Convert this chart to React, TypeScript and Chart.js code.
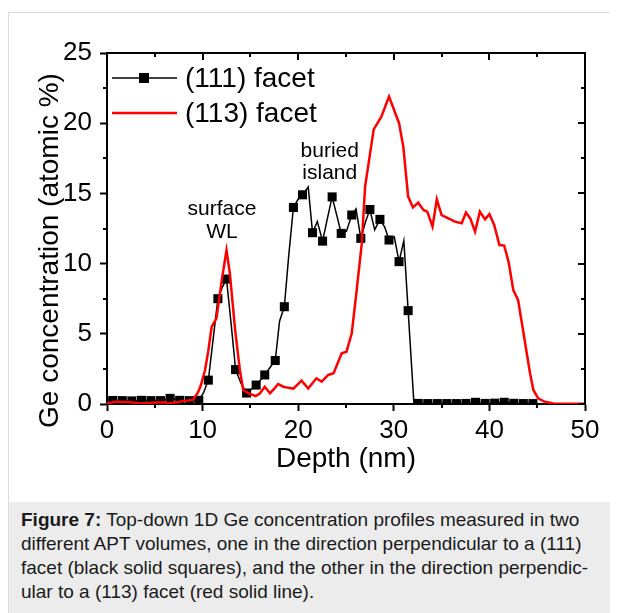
import React, { useEffect, useRef } from "react";
import { Chart, registerables } from "chart.js";

Chart.register(...registerables);

// ---------- data ----------
const seriesLabels = ["(111) facet", "(113) facet"];
const xAxisTitle = "Depth (nm)";
const yAxisTitle = "Ge concentration (atomic %)";
const xRange = [0, 50];
const yRange = [0, 25];
const xMajorStep = 10;
const xMinorStep = 5;
const yMajorStep = 5;
const yMinorStep = 2.5;

// (111) facet, black squares (every second point carries a symbol)
const facet111Depth = [
  0.1, 0.6, 1.1, 1.6, 2.1, 2.6, 3.1, 3.6, 4.1, 4.6, 5.1, 5.6, 6.1, 6.6, 7.1, 7.6, 8.1, 8.6, 9.1, 9.6,
  10.1, 10.6, 11.1, 11.6, 12.05, 12.5, 13.0, 13.45, 14.0, 14.6, 15.1, 15.6, 16.05, 16.5, 17.05, 17.6,
  18.05, 18.55, 19.0, 19.5, 20.0, 20.45, 21.05, 21.5, 22.0, 22.55, 23.05, 23.55, 24.05, 24.5, 25.05,
  25.6, 26.05, 26.55, 27.05, 27.5, 28.0, 28.55, 29.05, 29.5, 30.05, 30.55, 31.05, 31.5, 32.1, 32.55,
  33.05, 33.55, 34.05, 34.55, 35.05, 35.55, 36.05, 36.55, 37.05, 37.55, 38.05, 38.55, 39.05, 39.55,
  40.05, 40.55, 41.05, 41.55, 42.05, 42.55, 43.05, 43.55, 44.05, 44.55, 45.05,
];
const facet111Conc = [
  0.3, 0.25, 0.25, 0.24, 0.24, 0.22, 0.22, 0.26, 0.26, 0.24, 0.23, 0.24, 0.3, 0.4, 0.34, 0.26, 0.24, 0.24, 0.24, 0.26,
  0.8, 1.7, 4.6, 7.5, 8.3, 8.9, 5.6, 2.45, 1.5, 0.78, 1.05, 1.35, 1.7, 2.07, 2.6, 3.1,
  5.9, 6.93, 10.5, 14.0, 14.6, 14.9, 15.45, 12.2, 13.0, 11.6, 13.2, 14.75, 13.4, 12.15, 12.3,
  13.46, 13.9, 11.8, 13.0, 13.85, 12.4, 13.15, 12.6, 11.68, 11.9, 10.14, 11.63, 6.65, 0.1, 0.04,
  0.03, 0.03, 0.03, 0.03, 0.03, 0.03, 0.03, 0.03, 0.03, 0.04, 0.06, 0.12, 0.06, 0.04,
  0.04, 0.06, 0.1, 0.12, 0.1, 0.05, 0.03, 0.03, 0.03, 0.03, 0.03,
];

// (113) facet, red solid line
const facet113Depth = [
  0.0, 0.5, 1.0, 1.5, 2.0, 2.5, 3.0, 3.5, 4.0, 4.5, 5.0, 5.5, 6.0, 6.6, 7.0, 7.5, 8.0, 8.5, 9.0, 9.5,
  9.8, 10.25, 10.6, 10.95, 11.45, 12.0, 12.5, 12.85, 13.4, 13.9, 14.25, 14.8, 15.55, 16.0, 16.5, 17.05,
  17.5, 17.9, 18.45, 19.0, 19.5, 20.35, 21.05, 21.9, 22.45, 23.15, 23.7, 24.55, 25.05, 25.6, 26.1,
  26.65, 27.0, 27.9, 28.7, 29.5, 30.55, 31.0, 31.5, 32.0, 32.55, 33.1, 33.5, 34.05, 34.5, 35.0, 35.7,
  36.4, 37.1, 37.55, 38.0, 38.5, 39.0, 39.55, 40.0, 40.5, 41.05, 41.55, 42.0, 42.5, 43.0, 43.6, 44.25,
  44.6, 45.1, 45.8, 46.7, 47.5, 48.5, 50.0,
];
const facet113Conc = [
  0.05, 0.1, 0.17, 0.15, 0.15, 0.12, 0.08, 0.05, 0.06, 0.08, 0.1, 0.1, 0.12, 0.03, 0.1, 0.15, 0.22, 0.25, 0.3, 0.8,
  1.3, 2.4, 3.8, 5.5, 6.1, 8.8, 10.95, 9.3, 5.3, 2.4, 1.0, 0.76, 0.57, 0.76, 1.23, 0.76,
  1.1, 1.42, 1.23, 1.15, 1.1, 1.66, 1.1, 1.83, 1.59, 2.07, 2.19, 3.61, 3.72, 5.03, 8.0,
  11.44, 15.5, 19.56, 20.46, 21.9, 20.0, 18.3, 14.77, 14.0, 14.34, 13.82, 13.7, 12.63, 14.58, 13.46, 13.22,
  12.99, 12.87, 13.63, 13.22, 12.27, 13.7, 13.15, 13.53, 12.75, 11.32, 11.28, 10.14, 8.12, 7.41, 4.91, 2.19,
  1.0, 0.4, 0.16, 0.03, 0.02, 0.02, 0.02,
];

// annotations: [text lines, depth (centre), concentration at first baseline]
const annotationLines = [
  ["buried", "island"],
  ["surface", "WL"],
];
const annotationDepth = [23.3, 12.03];
const annotationConc = [17.6, 13.46];

const captionBold = "Figure 7:";
const captionLines = [
  " Top-down 1D Ge concentration profiles measured in two",
  "different APT volumes, one in the direction perpendicular to a (111)",
  "facet (black solid squares), and the other in the direction perpendic-",
  "ular to a (113) facet (red solid line).",
];

// ---------- styling ----------
const FONT = "'Liberation Sans', Arial, Helvetica, sans-serif";
const CANVAS_W = 609;
const CANVAS_H = 489;

const toPoints = (xs: number[], ys: number[]) => xs.map((x, i) => ({ x, y: ys[i] }));

const extrasPlugin = {
  id: "extras",
  afterDatasetsDraw(chart: any) {
    const { ctx, chartArea: a, scales } = chart;
    const xs = scales.x;
    const ys = scales.y;
    ctx.save();
    ctx.strokeStyle = "#000";
    ctx.lineWidth = 2;
    const seg = (x1: number, y1: number, x2: number, y2: number) => {
      ctx.beginPath();
      ctx.moveTo(x1, y1);
      ctx.lineTo(x2, y2);
      ctx.stroke();
    };
    // top and right frame
    ctx.beginPath();
    ctx.moveTo(a.left - 1, a.top);
    ctx.lineTo(a.right, a.top);
    ctx.lineTo(a.right, a.bottom + 1);
    ctx.stroke();
    // x ticks
    for (let v = xRange[0]; v <= xRange[1] + 1e-9; v += xMinorStep) {
      const px = Math.round(xs.getPixelForValue(v));
      const major = Math.abs(v / xMajorStep - Math.round(v / xMajorStep)) < 1e-6;
      const len = major ? 7 : 4;
      seg(px, a.top, px, a.top + len);
      if (!major) seg(px, a.bottom, px, a.bottom + len);
    }
    // y ticks
    for (let v = yRange[0]; v <= yRange[1] + 1e-9; v += yMinorStep) {
      const py = Math.round(ys.getPixelForValue(v));
      const major = Math.abs(v / yMajorStep - Math.round(v / yMajorStep)) < 1e-6;
      const len = major ? 7 : 4;
      seg(a.right, py, a.right - len, py);
      if (!major) seg(a.left, py, a.left - len, py);
    }

    // legend
    ctx.font = `28px ${FONT}`;
    ctx.textBaseline = "middle";
    ctx.textAlign = "left";
    chart.data.datasets.forEach((ds: any, i: number) => {
      const yy = a.top + 25 + i * 35;
      ctx.strokeStyle = ds.borderColor;
      ctx.lineWidth = ds.borderWidth;
      seg(a.left + 5, yy, a.left + 70, yy);
      if (ds.legendMarker) {
        ctx.fillStyle = ds.pointBackgroundColor;
        ctx.fillRect(a.left + 32, yy - 5, 10, 10);
      }
      ctx.fillStyle = "#000";
      ctx.fillText(ds.label, a.left + 78, yy + 1);
    });

    // annotations
    ctx.font = `21px ${FONT}`;
    ctx.textAlign = "center";
    ctx.textBaseline = "alphabetic";
    ctx.fillStyle = "#000";
    annotationLines.forEach((lines, i) => {
      const cx = xs.getPixelForValue(annotationDepth[i]);
      const by = ys.getPixelForValue(annotationConc[i]);
      lines.forEach((t, j) => ctx.fillText(t, cx, by + j * 22.5));
    });

    // y axis title
    ctx.save();
    ctx.font = `28px ${FONT}`;
    ctx.textAlign = "center";
    ctx.textBaseline = "middle";
    ctx.translate(41, (a.top + a.bottom) / 2 + 22);
    ctx.rotate(-Math.PI / 2);
    ctx.fillText(yAxisTitle, 0, 0);
    ctx.restore();

    ctx.restore();
  },
};

export default function App() {
  const canvasRef = useRef<HTMLCanvasElement | null>(null);

  useEffect(() => {
    if (!canvasRef.current) return;
    const chart = new Chart(canvasRef.current, {
      type: "line",
      data: {
        datasets: [
          {
            label: seriesLabels[0],
            data: toPoints(facet111Depth, facet111Conc),
            borderColor: "#000",
            backgroundColor: "#000",
            pointBackgroundColor: "#000",
            borderWidth: 1.5,
            pointStyle: "rect",
            pointRadius: (c: any) => (c.dataIndex % 2 === 1 ? 6.4 : 0),
            pointBorderWidth: 0,
            tension: 0,
            order: 1,
            legendMarker: true,
          } as any,
          {
            label: seriesLabels[1],
            data: toPoints(facet113Depth, facet113Conc),
            borderColor: "#ff0000",
            backgroundColor: "#ff0000",
            borderWidth: 2.5,
            pointRadius: 0,
            tension: 0,
            order: 0,
          } as any,
        ],
      },
      options: {
        responsive: false,
        animation: false,
        layout: { padding: { left: 0, right: 33, top: 40, bottom: 0 } },
        plugins: {
          legend: { display: false },
          tooltip: { enabled: false },
          title: { display: false },
        },
        scales: {
          x: {
            type: "linear",
            position: "bottom",
            min: xRange[0],
            max: xRange[1],
            afterFit: (s: any) => {
              s.height = 98;
            },
            ticks: {
              stepSize: xMajorStep,
              autoSkip: false,
              maxRotation: 0,
              color: "#000",
              padding: 4,
              font: { family: FONT, size: 26 },
            },
            grid: {
              drawOnChartArea: false,
              drawTicks: true,
              tickLength: 7,
              tickWidth: 2,
              tickColor: "#000",
            },
            border: { display: true, color: "#000", width: 2 },
            title: {
              display: true,
              text: xAxisTitle,
              color: "#000",
              font: { family: FONT, size: 28 },
              padding: { top: 0, bottom: 26 },
            },
          },
          y: {
            type: "linear",
            position: "left",
            min: yRange[0],
            max: yRange[1],
            afterFit: (s: any) => {
              s.width = 98;
            },
            ticks: {
              stepSize: yMajorStep,
              autoSkip: false,
              color: "#000",
              padding: 8,
              font: { family: FONT, size: 26 },
            },
            grid: {
              drawOnChartArea: false,
              drawTicks: true,
              tickLength: 7,
              tickWidth: 2,
              tickColor: "#000",
            },
            border: { display: true, color: "#000", width: 2 },
          },
        },
      } as any,
      plugins: [extrasPlugin],
    });
    return () => chart.destroy();
  }, []);

  return (
    <div style={{ paddingTop: 4 }}>
      <div
        style={{
          marginRight: -8,
          borderLeft: "1px solid #dcdcdc",
          borderTop: "1px solid #dcdcdc",
          background: "#fff",
        }}
      >
        <canvas
          ref={canvasRef}
          width={CANVAS_W}
          height={CANVAS_H}
          style={{ display: "block", width: CANVAS_W, height: CANVAS_H }}
        />
        <div
          style={{
            background: "#ececec",
            padding: "6px 0 30px 12px",
            fontFamily: FONT,
            fontSize: 19,
            lineHeight: "24px",
            color: "#1a1a1a",
            whiteSpace: "nowrap",
          }}
        >
          <b>{captionBold}</b>
          {captionLines[0]}
          <br />
          {captionLines[1]}
          <br />
          {captionLines[2]}
          <br />
          {captionLines[3]}
        </div>
      </div>
    </div>
  );
}
